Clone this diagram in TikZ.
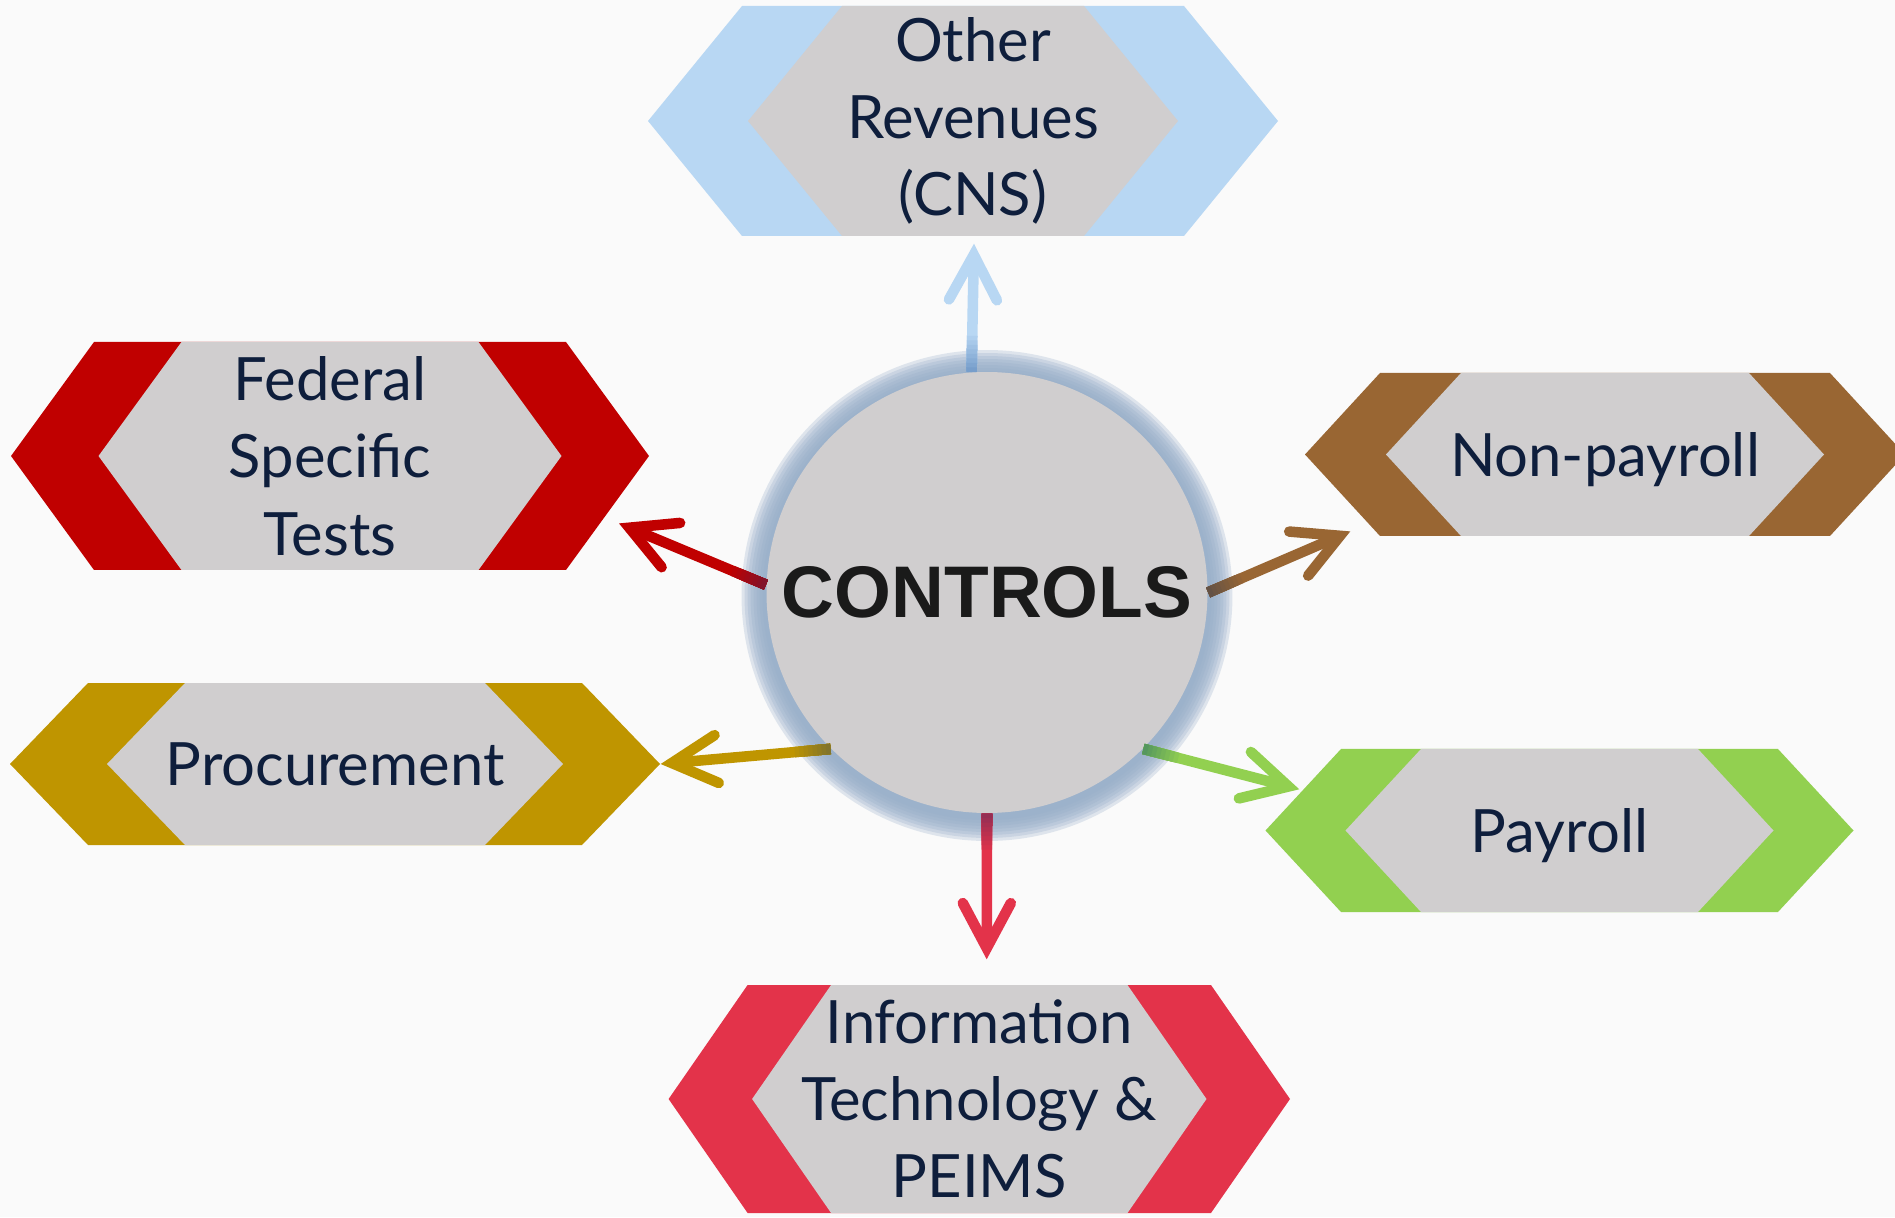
\documentclass[tikz,border=0pt]{standalone}
\usepackage{fontspec}
\setmainfont{Lato}
\newfontfamily\ctlfont{Liberation Sans}
\usetikzlibrary{arrows.meta,calc}
\definecolor{bgc}{HTML}{FAFAFA}\definecolor{panel}{HTML}{D0CECF}
\definecolor{ink}{HTML}{0E1E3C}\definecolor{ctlink}{HTML}{1A1A1A}\definecolor{halo}{HTML}{97ADC9}
\definecolor{othc}{HTML}{B8D7F3}\definecolor{othd}{HTML}{6F97C6}
\definecolor{fedc}{HTML}{C00000}\definecolor{fedd}{HTML}{7A1530}
\definecolor{npc}{HTML}{996633}\definecolor{npd}{HTML}{5E5048}
\definecolor{procc}{HTML}{BF9500}\definecolor{procd}{HTML}{7A7030}
\definecolor{payc}{HTML}{92D050}\definecolor{payd}{HTML}{4E9060}
\definecolor{itc}{HTML}{E3334A}\definecolor{itd}{HTML}{8B2E55}
\tikzset{lbl/.style={text=ink,align=center,inner sep=0pt,font=\fontsize{17}{22}\selectfont},
 wire/.style={line width=3pt},
 flow/.style={wire,-{Straight Barb[length=4.5mm,width=4.8mm,line cap=round,line join=miter]}},
 hub/.style={circle,fill=panel,minimum size=4.41cm,inner sep=0pt,text=ctlink,font=\ctlfont\bfseries\fontsize{20.8}{25}\selectfont}}
\newcommand{\hexbox}[8]{%
 \fill[#7] (#2) ++({-(#3)-(#5)},0) -- ++(#5,#4) -- ++({2*(#3)},0) -- ++(#5,-#4) -- ++(-#5,-#4) -- ++({-2*(#3)},0) -- cycle;
 \fill[panel] (#2) ++({-(#3)-(#5)+(#6)},0) -- ++(#5,#4) -- ++({2*(#3)-2*(#6)},0) -- ++(#5,-#4) -- ++(-#5,-#4) -- ++({-2*(#3)+2*(#6)},0) -- cycle;
 \node[lbl,minimum width={2*((#3)+(#5))*1cm},minimum height={2*(#4)*1cm}] (#1) at (#2) {#8};}
\newcommand{\conn}[4]{%
 \draw[flow,#3] (#1) -- (#2);
 \foreach \k in {8,...,1}{\pgfmathsetmacro\mix{100-\k*11}
  \draw[wire,#4!\mix!#3] (#1) -- ($(#1)!\k*0.045cm!(#2)$);}}

\begin{document}
\begin{tikzpicture}
\fill[bgc] (0,0) rectangle (18.95,12.17);
\useasboundingbox (0,0) rectangle (18.95,12.17);
\hexbox{oth}{9.63,10.96}{2.21}{1.15}{0.94}{1.00}{othc}{\hspace*{2mm}Other\\\hspace*{2mm}Revenues\\\hspace*{2mm}(CNS)}
\hexbox{fed}{3.30,7.61}{2.36}{1.14}{0.83}{0.875}{fedc}{Federal\\Specific\\Tests}
\hexbox{np}{16.05,7.625}{2.25}{0.815}{0.75}{0.81}{npc}{\raisebox{0pt}[\height][0pt]{Non-payroll}}
\hexbox{pay}{15.595,3.865}{2.185}{0.815}{0.755}{0.80}{payc}{\raisebox{0pt}[\height][0pt]{Payroll}}
\hexbox{proc}{3.35,4.53}{2.47}{0.81}{0.78}{0.97}{procc}{Procurement}
\hexbox{it}{9.793,1.18}{2.317}{1.14}{0.79}{0.835}{itc}{Information\\Technology \&\\PEIMS}
\coordinate (ctr) at (9.87,6.245);
\foreach \r in {25,22,...,4}\fill[halo,opacity=.28] ([yshift=-0.3mm]ctr) circle[radius={2.205+\r*0.01}];
\node[hub] (ctl) at (ctr) {CONTROLS};
\coordinate (othin) at ([shift={(0.11,-0.07)}]oth.south);
\coordinate (fedin) at ([shift={(-0.307,0.473)}]fed.south east);
\coordinate (npin) at ([shift={(0.46,0.053)}]np.south west);
\coordinate (payin) at ([shift={(0.345,0.412)}]pay.west);
\coordinate (itin) at ([shift={(0.074,0.25)}]it.north);
\conn{ctl.94}{othin}{othc}{othd}
\conn{ctl.178}{fedin}{fedc}{fedd}
\conn{ctl.0}{npin}{npc}{npd}
\conn{ctl.-45}{payin}{payc}{payd}
\conn{ctl.225}{proc.east}{procc}{procd}
\conn{ctl.270}{itin}{itc}{itd}
\end{tikzpicture}
\end{document}
